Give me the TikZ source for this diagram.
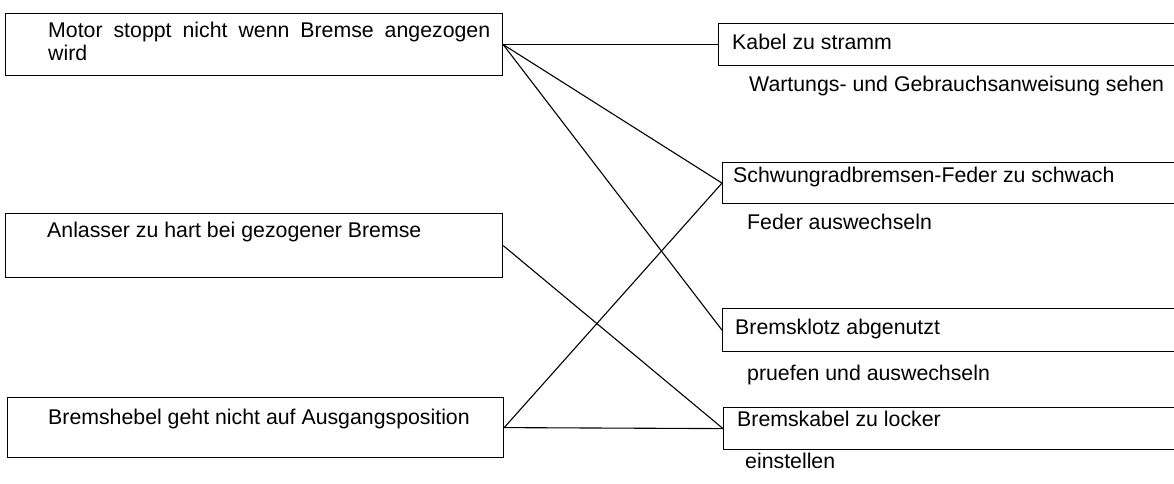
\documentclass[tikz,border=0pt]{standalone}
\usepackage{fontspec}
\setmainfont{Liberation Sans}
\begin{document}
\begin{tikzpicture}[x=1pt,y=-1pt,
  lbox/.style={draw,line width=1.2pt,rectangle,inner sep=0pt,anchor=north west},
  rbox/.style={draw,line width=1.2pt,rectangle,inner sep=0pt,anchor=north west},
  txt/.style={anchor=base west,inner sep=0pt,font=\fontsize{21.3}{25}\selectfont},
  conn/.style={line width=1.1pt}]
\useasboundingbox (0,0) rectangle (1174,484);
\clip (0,0) rectangle (1174,484);
% left boxes
\node[lbox,minimum width=497pt,minimum height=62pt] (b1) at (5,13) {};
\node[lbox,minimum width=497pt,minimum height=64pt] (b2) at (5,213) {};
\node[lbox,minimum width=496pt,minimum height=60pt] (b3) at (7,397) {};
% right boxes (open to the right edge)
\node[rbox,minimum width=480pt,minimum height=42pt] (k) at (718,23) {};
\node[rbox,minimum width=480pt,minimum height=41pt] (s) at (722,162) {};
\node[rbox,minimum width=480pt,minimum height=43pt] (bk) at (722,308) {};
\node[rbox,minimum width=480pt,minimum height=42pt] (bc) at (723,407) {};
% texts
\node[txt] (t1) at (48,38) {\makebox[442pt][s]{Motor stoppt nicht wenn Bremse angezogen}};
\node[txt] (t1b) at (48,61) {wird};
\node[txt] (t2) at (47,237) {Anlasser zu hart bei gezogener Bremse};
\node[txt] (t3) at (48,424) {Bremshebel geht nicht auf Ausgangsposition};
\node[txt] (tk) at (732,50) {Kabel zu stramm};
\node[txt] (tk2) at (749,92) {Wartungs- und Gebrauchsanweisung sehen};
\node[txt] (ts) at (733,182) {Schwungradbremsen-Feder zu schwach};
\node[txt] (ts2) at (747,229) {Feder auswechseln};
\node[txt] (tbk) at (735,334) {Bremsklotz abgenutzt};
\node[txt] (tbk2) at (747,380) {pruefen und auswechseln};
\node[txt] (tbc) at (737,426) {Bremskabel zu locker};
\node[txt] (tbc2) at (745,468) {einstellen};
% connectors
\draw[conn] (b1.east) -- (k.west);
\draw[conn] (b1.east) -- (s.west);
\draw[conn] (b1.east) -- (bk.west);
\draw[conn] (b2.east) -- (bc.west);
\draw[conn] (b3.east) -- (s.west);
\draw[conn] (b3.east) -- (bc.west);
\end{tikzpicture}
\end{document}
